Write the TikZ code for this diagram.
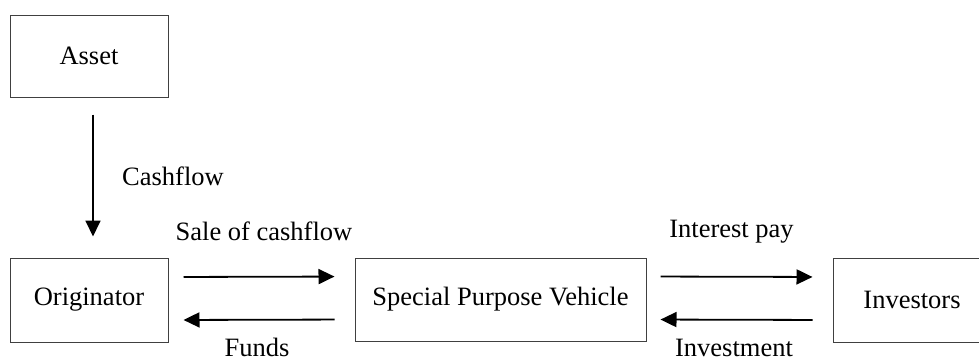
\documentclass[tikz,border=0pt]{standalone}
\usepackage{fontspec}
\setmainfont{Liberation Serif}
\usetikzlibrary{arrows.meta}
\begin{document}
\begin{tikzpicture}[x=1pt,y=-1pt,
  box/.style={draw=black!75,line width=1pt,rectangle,inner sep=0pt,
    font=\fontsize{26.5}{31}\selectfont},
  lbl/.style={font=\fontsize{26.5}{31}\selectfont,inner sep=0pt,anchor=base},
  flow/.style={line width=1.8pt,-{Triangle[length=16pt,width=15pt]}}]
  \useasboundingbox (0,0) rectangle (979,360);
  \begin{scope}
  \clip (0,0) rectangle (979,360);
  % boxes
  \node[box,minimum width=158pt,minimum height=82pt] (asset) at (89,56) {Asset};
  \node[box,minimum width=158pt,minimum height=84pt] (orig) at (89,300) {Originator};
  \node[box,minimum width=291pt,minimum height=83pt] (spv) at (500.5,299.5) {Special Purpose Vehicle};
  \node[box,minimum width=158pt,minimum height=84pt] (inv) at (912,300) {Investors};
  \end{scope}
  % flows
  \draw[flow,shorten <=17pt,shorten >=21pt] ([xshift=4pt]asset.south) -- ([xshift=4pt]orig.north);
  \draw[flow,shorten <=15pt,shorten >=20pt] ([yshift=23pt]orig.east) -- ([yshift=23pt]spv.west);
  \draw[flow,shorten <=20pt,shorten >=15pt] ([yshift=-20pt]spv.west) -- ([yshift=-20pt]orig.east);
  \draw[flow,shorten <=14pt,shorten >=20pt] ([yshift=23pt]spv.east) -- ([yshift=23pt]inv.west);
  \draw[flow,shorten <=20pt,shorten >=14pt] ([yshift=-20pt]inv.west) -- ([yshift=-20pt]spv.east);
  % labels
  \node[lbl,anchor=base west] (lcash) at (122,185) {Cashflow};
  \node[lbl] (lsale) at (264,240) {Sale of cashflow};
  \node[lbl,text depth=0pt] (lfunds) at (257,356) {Funds};
  \node[lbl] (lint) at (731.5,237) {Interest pay};
  \node[lbl,text depth=0pt] (linv) at (734,356) {Investment};
\end{tikzpicture}
\end{document}
